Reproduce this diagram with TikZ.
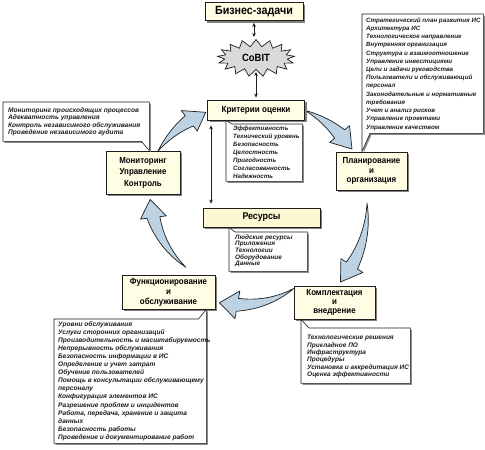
\documentclass[tikz,border=0pt]{standalone}
\usepackage{fontspec}
\setmainfont{Liberation Sans}
\newfontfamily\hf[FakeStretch=0.9]{Liberation Sans}
\usetikzlibrary{shapes.symbols,shadows,arrows.meta}
\definecolor{nodefill}{HTML}{FFFDE4}
\definecolor{resfill}{HTML}{FCF8D4}
\definecolor{arrowfill}{HTML}{BDD3E4}
\definecolor{burstfill}{HTML}{DADADA}
\definecolor{ink}{HTML}{1E1E1E}
\tikzset{
  mainbox/.style 2 args={draw=ink, line width=0.8pt, fill=nodefill,
    drop shadow={shadow xshift=2pt, shadow yshift=-2pt, fill=black!50, opacity=1},
    inner sep=0pt, align=center, font=\hf\bfseries\fontsize{#1}{#2}\selectfont},
  boxspace/.style={inner sep=0pt, draw=none, anchor=north west},
  callout/.style={draw=ink, line width=0.6pt, fill=white,
    drop shadow={shadow xshift=1.5pt, shadow yshift=-1.5pt, fill=black!45, opacity=1}},
  listtext/.style 2 args={inner sep=0pt, anchor=north west, align=left,
    text=ink, font=\bfseries\itshape\fontsize{#1}{#2}\selectfont},
  dblarrow/.style={{Stealth[length=4pt,width=3.6pt]}-{Stealth[length=4pt,width=3.6pt]},
    line width=0.7pt, draw=ink},
  swooshstyle/.style={draw=ink, line width=0.7pt, fill=arrowfill, line join=round}
}
\newcommand\swoosh[7]{%
  \pgfmathsetmacro\swA{#1}%
  \pgfmathsetmacro\swB{#2}%
  \pgfmathsetmacro\swH{#2+#7}%
  \pgfmathsetmacro\swRH{#3+(#4-#3)*(#1-(\swH))/(#1-(#2))}%
  \pgfmathsetmacro\swRo{\swRH+#6}%
  \pgfmathsetmacro\swRi{\swRH-#6}%
  \draw[swooshstyle] plot[domain=\swA:\swH, samples=30]
      (\x:{#3+(#4-#3)*(#1-(\x))/(#1-(#2))+#5/2*(#1-(\x))/(#1-(\swH))})
    -- (\swH:\swRo) -- (\swB:#4) -- (\swH:\swRi)
    -- plot[domain=\swH:\swA, samples=30]
      (\x:{#3+(#4-#3)*(#1-(\x))/(#1-(#2))-#5/2*(#1-(\x))/(#1-(\swH))})
    -- cycle;
}
\begin{document}
\begin{tikzpicture}[x=1pt,y=-1pt]
\useasboundingbox (0,0) rectangle (485,450);
\fill[white] (0,0) rectangle (485,450);

% ---- cycle arrows ----
\begin{scope}[shift={(255,205)}, yscale=-1]
  \swoosh{151}{118}{111}{105}{13}{13}{10}
  \swoosh{62}{30}{107}{112}{13}{13}{10}
  \swoosh{1}{-42}{112}{115}{13}{13}{10}
  \swoosh{-65}{-110}{92}{104}{13}{14}{10}
  \swoosh{-138}{-183}{93}{105}{13}{13}{10}
\end{scope}

% ---- main boxes ----
\node[mainbox={11.9}{13}, minimum width=98pt, minimum height=18pt] (biz) at (254,11.5) {Бизнес-задачи};
\node[starburst, starburst points=17, starburst point height=7pt, random starburst=0,
      draw=ink, line width=0.7pt, fill=burstfill, minimum width=77pt, minimum height=37pt,
      inner sep=0pt, font=\hf\bfseries\fontsize{10.5}{12}\selectfont] (cobit) at (256,58) {CoBIT};
\node[mainbox={9}{10}, minimum width=97pt, minimum height=20pt] (crit) at (256,110) {Критерии оценки};
\node[mainbox={8.8}{11.5}, minimum width=74pt, minimum height=43pt] (mon) at (143,172.5) {Мониторинг\\Управление\\Контроль};
\node[mainbox={8.8}{9.5}, minimum width=71pt, minimum height=38pt] (plan) at (371.5,171) {Планирование\\и\\организация};
\node[mainbox={9.8}{11}, minimum width=117pt, minimum height=19pt, fill=resfill] (res) at (261.5,217.5) {Ресурсы};
\node[mainbox={8.8}{9}, minimum width=81pt, minimum height=33pt] (kom) at (334.5,302.5) {Комплектация\\и\\внедрение};
\node[mainbox={8.8}{10}, minimum width=93pt, minimum height=34pt] (fun) at (168.5,292) {Функционирование\\и\\обслуживание};

% ---- vertical double arrows ----
\draw[dblarrow, shorten <=2pt, shorten >=2pt] (biz.south) -- (cobit.north -| biz.south);
\draw[dblarrow, shorten <=2pt, shorten >=2pt] (cobit.south) -- (crit.north -| cobit.south);
\coordinate (vx) at (211,0);
\draw[dblarrow, shorten <=5pt, shorten >=4pt] (crit.south -| vx) -- (res.north -| vx);

% ---- callout lists ----
% monitoring list
\node[boxspace, minimum width=146pt, minimum height=39pt] (monlist) at (3,102) {};
\draw[callout] (mon.north -| monlist.east) -- ([xshift=-8pt]monlist.south east) -- (monlist.south west)
  -- (monlist.north west) -- (monlist.north east) -- cycle;
\node[listtext={6.6}{7.5}] (monlistt) at (8,107.3) {Мониторинг происходящих процессов\\Адекватность управления\\Контроль независимого обслуживания\\Проведение независимого аудита};

% planning list
\node[boxspace, minimum width=121pt, minimum height=119pt] (planlist) at (362,14) {};
\draw[callout] (plan.north -| planlist.west) -- (planlist.north west) -- (planlist.north east)
  -- (planlist.south east) -- ([xshift=8pt]planlist.south west) -- cycle;
\node[listtext={6.2}{8.23}] (planlistt) at (366,17.3) {Стратегический план развития ИС\\Архитектура ИС\\Технологическое направление\\Внутренняя организация\\Структура и взаимоотношение\\Управление инвестициями\\Цели и задачи руководства\\Пользователи и обслуживающий\\персонал\\Законодательные и нормативные\\требования\\Учет и анализ рисков\\Управление проектами\\Управление качеством};

% criteria list
\node[boxspace, minimum width=76pt, minimum height=57pt] (critlist) at (226,124) {};
\draw[callout] (crit.south -| critlist.west) -- (critlist.south west) -- (critlist.south east)
  -- (critlist.north east) -- ([xshift=6pt]critlist.north west) -- cycle;
\node[listtext={6.2}{7.9}] (critlistt) at (233,126.3) {Эффективность\\Технический уровень\\Безопасность\\Целостность\\Пригодность\\Согласованность\\Надежность};

% resources list
\node[boxspace, minimum width=78pt, minimum height=39pt] (reslist) at (229,232) {};
\draw[callout] (res.south -| reslist.west) -- (reslist.south west) -- (reslist.south east)
  -- (reslist.north east) -- ([xshift=6pt]reslist.north west) -- cycle;
\node[listtext={6.4}{6.7}] (reslistt) at (235,234.3) {Людские ресурсы\\Приложения\\Технологии\\Оборудование\\Данные};

% implementation list
\node[boxspace, minimum width=109pt, minimum height=55pt] (komlist) at (301,328) {};
\draw[callout] (kom.south -| komlist.west) -- (komlist.south west) -- (komlist.south east)
  -- (komlist.north east) -- ([xshift=8pt]komlist.north west) -- cycle;
\node[listtext={6.5}{7.3}] (komlistt) at (307,335.3) {Технологические решения\\Прикладное ПО\\Инфраструктура\\Процедуры\\Установка и аккредитация ИС\\Оценка эффективности};

% operation list
\node[boxspace, minimum width=152pt, minimum height=124pt] (funlist) at (54,319) {};
\draw[callout] (fun.south -| funlist.east) -- (funlist.south east) -- (funlist.south west)
  -- (funlist.north west) -- ([xshift=-8pt]funlist.north east) -- cycle;
\node[listtext={6.6}{8.07}] (funlistt) at (58,321.3) {Уровни обслуживания\\Услуги сторонних организаций\\Производительность и масштабируемость\\Непрерывность обслуживания\\Безопасность информации в ИС\\Определение и учет затрат\\Обучение пользователей\\Помощь в консультации обслуживающему\\персоналу\\Конфигурация элементов ИС\\Разрешение проблем и инцидентов\\Работа, передача, хранение и защита\\данных\\Безопасность работы\\Проведение и документирование работ};
\end{tikzpicture}
\end{document}
